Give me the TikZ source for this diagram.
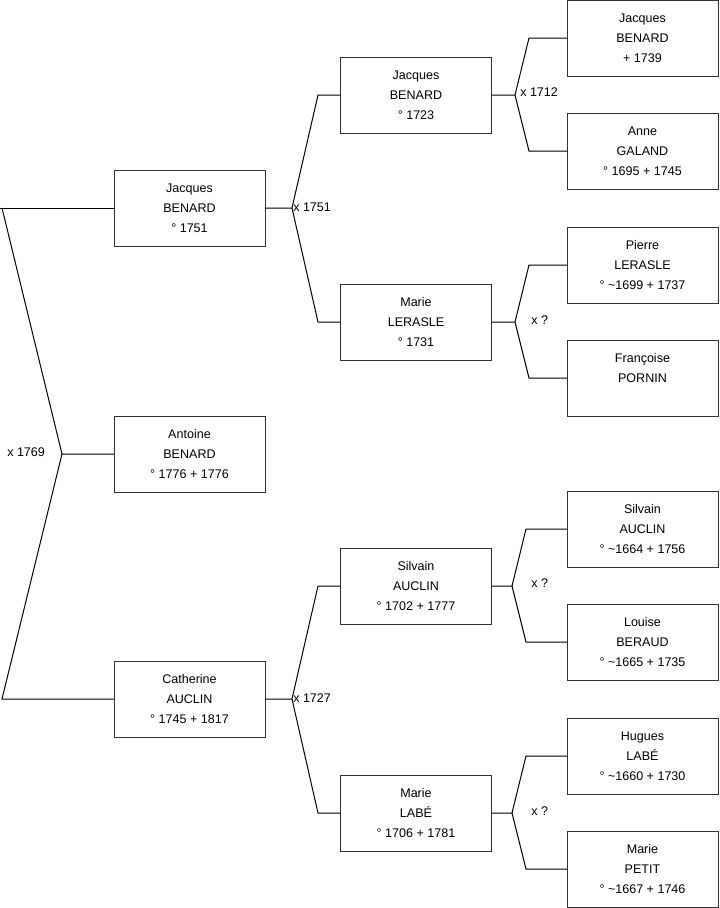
\documentclass[tikz,border=0pt]{standalone}
\usepackage{fontspec}
\setmainfont{Liberation Sans}
\begin{document}
\begin{tikzpicture}[x=0.75pt,y=-0.75pt,
  person/.style={draw=black!80, line width=0.75pt, minimum width=113.25pt, minimum height=57pt,
    inner sep=0pt, outer sep=0pt, align=center, font=\fontsize{9.4}{15}\selectfont},
  link/.style={draw=black, line width=0.75pt},
  marr/.style={anchor=west, inner sep=0pt, font=\fontsize{9.4}{12}\selectfont}]
\useasboundingbox (0,0) rectangle (719,908);
% generation 1
\node[person] (jb1751) at (189.5,208) {Jacques\\BENARD\\° 1751};
\node[person] (ab1776) at (189.5,454) {Antoine\\BENARD\\° 1776 + 1776};
\node[person] (ca1745) at (189.5,699) {Catherine\\AUCLIN\\° 1745 + 1817};
% generation 2
\node[person] (jb1723) at (416,95) {Jacques\\BENARD\\° 1723};
\node[person] (ml1731) at (416,322) {Marie\\LERASLE\\° 1731};
\node[person] (sa1702) at (416,586) {Silvain\\AUCLIN\\° 1702 + 1777};
\node[person] (ml1706) at (416,813) {Marie\\LABÉ\\° 1706 + 1781};
% generation 3
\node[person] (jb1739) at (642.5,38) {Jacques\\BENARD\\+ 1739};
\node[person] (ag1695) at (642.5,151) {Anne\\GALAND\\° 1695 + 1745};
\node[person] (pl1699) at (642.5,265) {Pierre\\LERASLE\\° \textasciitilde1699 + 1737};
\node[person] (fp) at (642.5,378) {Françoise\\PORNIN\\\mbox{}};
\node[person] (sa1664) at (642.5,529) {Silvain\\AUCLIN\\° \textasciitilde1664 + 1756};
\node[person] (lb1665) at (642.5,642) {Louise\\BERAUD\\° \textasciitilde1665 + 1735};
\node[person] (hl1660) at (642.5,756) {Hugues\\LABÉ\\° \textasciitilde1660 + 1730};
\node[person] (mp1667) at (642.5,869) {Marie\\PETIT\\° \textasciitilde1667 + 1746};

% junctions
\coordinate (k0) at (62,454);
\coordinate (k0t) at (2,208);
\coordinate (k0b) at (2,699);
\coordinate (k0e) at (0,208);
\coordinate (k1) at (292,208);
\coordinate (k1t) at (318,95);
\coordinate (k1b) at (318,322);
\coordinate (k2) at (292,699);
\coordinate (k2t) at (318,586);
\coordinate (k2b) at (318,813);
\coordinate (k3) at (515,95);
\coordinate (k3t) at (529,38);
\coordinate (k3b) at (529,151);
\coordinate (k4) at (515,322);
\coordinate (k4t) at (529,265);
\coordinate (k4b) at (529,378);
\coordinate (k5) at (512,586);
\coordinate (k5t) at (526,529);
\coordinate (k5b) at (526,642);
\coordinate (k6) at (512,813);
\coordinate (k6t) at (526,756);
\coordinate (k6b) at (526,869);

\draw[link] (k0e) -- (jb1751.west);
\draw[link] (k0t) -- (k0) -- (ab1776.west);
\draw[link] (k0) -- (k0b) -- (ca1745.west);

\draw[link] (jb1751.east) -- (k1) -- (k1t) -- (jb1723.west);
\draw[link] (k1) -- (k1b) -- (ml1731.west);
\draw[link] (ca1745.east) -- (k2) -- (k2t) -- (sa1702.west);
\draw[link] (k2) -- (k2b) -- (ml1706.west);

\draw[link] (jb1723.east) -- (k3) -- (k3t) -- (jb1739.west);
\draw[link] (k3) -- (k3b) -- (ag1695.west);
\draw[link] (ml1731.east) -- (k4) -- (k4t) -- (pl1699.west);
\draw[link] (k4) -- (k4b) -- (fp.west);
\draw[link] (sa1702.east) -- (k5) -- (k5t) -- (sa1664.west);
\draw[link] (k5) -- (k5b) -- (lb1665.west);
\draw[link] (ml1706.east) -- (k6) -- (k6t) -- (hl1660.west);
\draw[link] (k6) -- (k6b) -- (mp1667.west);

% marriage labels
\node[marr] (m0) at (7,452) {x 1769};
\node[marr] (m1) at (293,207) {x 1751};
\node[marr] (m2) at (293,698) {x 1727};
\node[marr] (m3) at (520,92) {x 1712};
\node[marr] (m4) at (531,320) {x ?};
\node[marr] (m5) at (531,583) {x ?};
\node[marr] (m6) at (531,811) {x ?};
\end{tikzpicture}
\end{document}
